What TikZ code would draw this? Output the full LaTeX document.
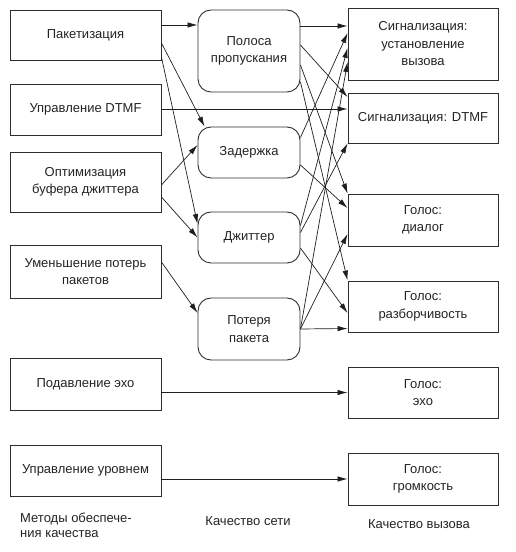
\documentclass[tikz,border=0pt]{standalone}
\usepackage{fontspec}
\setmainfont{Liberation Sans}
\usetikzlibrary{arrows.meta}
\definecolor{boxEdge}{RGB}{45,45,45}
\definecolor{linkLine}{RGB}{30,30,30}
\definecolor{labelText}{RGB}{35,35,35}

\begin{document}
\begin{tikzpicture}[x=1pt,y=1pt,
  every node/.style={font=\fontsize{13}{17.5}\selectfont,text=labelText},
  methodBox/.style={draw=boxEdge,line width=0.9pt,minimum width=151pt,minimum height=51pt,align=center,inner sep=2pt},
  netBox/.style={methodBox,minimum width=102pt,rounded corners=13pt},
  callBox/.style={methodBox,minimum width=150pt},
  link/.style={draw=linkLine,line width=0.7pt,-{Latex[length=10pt,width=5.5pt]}},
  colTitle/.style={font=\fontsize{13}{14.5}\selectfont}]
  \useasboundingbox (0,0) rectangle (516,552);

  % quality methods
  \node[methodBox,minimum height=50pt] (paket) at (85.5,517) {Пакетизация};
  \node[methodBox] (dtmf) at (85.5,442.5) {Управление DTMF};
  \node[methodBox,minimum height=60pt] (opt) at (85.5,370) {Оптимизация\\буфера джиттера};
  \node[methodBox,minimum height=53pt] (umen) at (85.5,280.5) {Уменьшение потерь\\пакетов};
  \node[methodBox,minimum height=52pt] (echo) at (85.5,168) {Подавление эхо};
  \node[methodBox] (level) at (85.5,81.5) {Управление уровнем};

  % network quality
  \node[netBox,minimum height=82pt] (polosa) at (249,501) {Полоса\\пропускания};
  \node[netBox] (zader) at (249,399.5) {Задержка};
  \node[netBox] (jitter) at (249,314.5) {Джиттер};
  \node[netBox,minimum height=62pt] (poter) at (249,223) {Потеря\\пакета};

  % call quality
  \node[callBox,minimum height=72pt] (sig1) at (423,508) {Сигнализация:\\установление\\вызова};
  \node[callBox,minimum height=50pt] (sig2) at (423,434) {Сигнализация: DTMF};
  \node[callBox,minimum height=52pt] (dialog) at (423,332) {Голос:\\диалог};
  \node[callBox] (razb) at (423,245.5) {Голос:\\разборчивость};
  \node[callBox] (echoq) at (423,159.5) {Голос:\\эхо};
  \node[callBox,minimum height=52pt] (loud) at (423,73) {Голос:\\громкость};

  % column titles
  \node[colTitle,anchor=north west,align=left,inner sep=0pt] (t1) at (20,39) {Методы обеспече-\\ния качества};
  \node[colTitle] (t2) at (248,31) {Качество сети};
  \node[colTitle] (t3) at (419,28) {Качество вызова};

  % methods -> network
  \draw[link] ([yshift=10pt]paket.east) -- ([yshift=26pt]polosa.west);
  \draw[link] ([yshift=-8pt]paket.east) -- ([xshift=7pt]zader.north west);
  \draw[link] ([yshift=-22pt]paket.east) -- ([yshift=13.5pt]jitter.west);
  \draw[link] ([yshift=-3pt]opt.east) -- ([yshift=7.5pt]zader.west);
  \draw[link] ([yshift=-15pt]opt.east) -- (jitter.west);
  \draw[link] ([yshift=9.5pt]umen.east) -- ([yshift=16pt]poter.west);

  % methods -> call
  \draw[link] ([yshift=0.5pt]dtmf.east) -- ([yshift=9pt]sig2.west);
  \draw[link] ([yshift=-8.5pt]echo.east) -- (echoq.west);
  \draw[link] ([yshift=-8.5pt]level.east) -- (loud.west);

  % network -> call
  \draw[link] ([yshift=25pt]polosa.east) -- ([yshift=18pt]sig1.west);
  \draw[link] ([yshift=6pt]polosa.east) -- ([yshift=21pt]sig2.west);
  \draw[link] ([yshift=-14pt]polosa.east) -- (dialog.north west);
  \draw[link] ([yshift=-31pt]polosa.east) -- (razb.north west);
  \draw[link] ([yshift=15pt]zader.east) -- ([yshift=11pt]sig1.west);
  \draw[link] ([yshift=-12.5pt]zader.east) -- ([yshift=12pt]dialog.west);
  \draw[link] ([yshift=12pt]jitter.east) -- ([yshift=-4pt]sig1.west);
  \draw[link] ([yshift=5pt]jitter.east) -- (sig2.south west);
  \draw[link] ([yshift=-10.5pt]jitter.east) -- ([yshift=-6.5pt]razb.west);
  \draw[link] (poter.east) -- ([yshift=-18pt]sig1.west);
  \draw[link] (poter.east) -- ([yshift=-14pt]dialog.west);
  \draw[link] (poter.east) -- ([yshift=-22pt]razb.west);
\end{tikzpicture}
\end{document}
